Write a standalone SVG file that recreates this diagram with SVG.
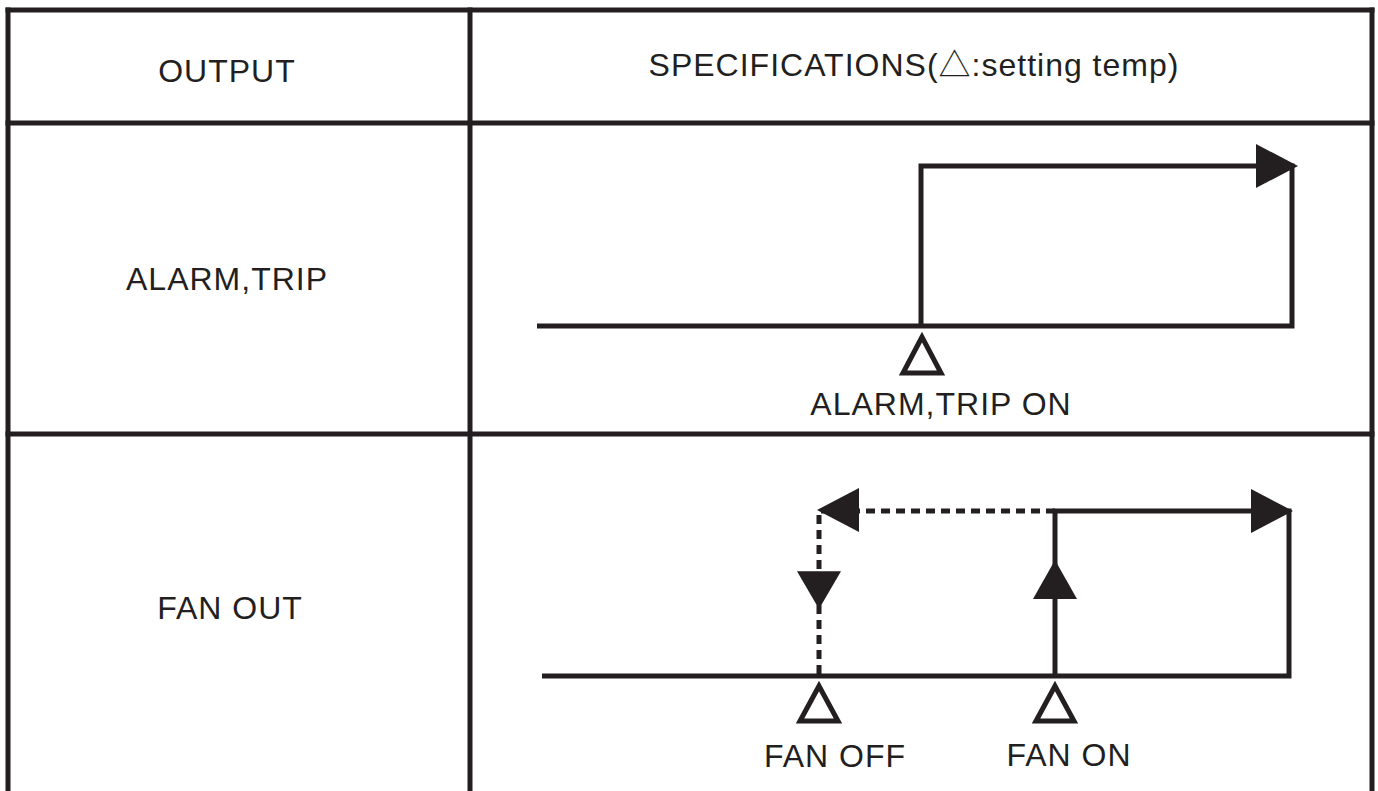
<svg xmlns="http://www.w3.org/2000/svg" xmlns:xlink="http://www.w3.org/1999/xlink" width="1378" height="791" viewBox="0 0 1378 791">
<style>
.grid{stroke:#231f20;stroke-width:5;fill:none;stroke-linecap:square}
.ln{stroke:#231f20;stroke-width:5;fill:none;stroke-linejoin:miter;stroke-linecap:butt}
.dash{stroke:#231f20;stroke-width:5;fill:none;stroke-dasharray:9 6}
.tri{stroke:#231f20;stroke-width:5;fill:none;stroke-linejoin:miter}
.t{font-family:"Liberation Sans",Arial,"Noto Sans CJK SC",sans-serif;font-size:32px;fill:#231f20;letter-spacing:1px;text-anchor:middle}
</style>
<defs>
<polygon id="ah" points="0,0 -42,-22 -42,22" fill="#231f20"/>
</defs>
<rect width="1378" height="791" fill="#ffffff"/>
<g id="table">
<line class="grid" x1="8" y1="10" x2="1372" y2="10"/>
<line class="grid" x1="8" y1="10" x2="8" y2="795"/>
<line class="grid" x1="1372" y1="10" x2="1372" y2="795"/>
<line class="grid" x1="470" y1="10" x2="470" y2="795"/>
<line class="grid" x1="8" y1="123" x2="1372" y2="123"/>
<line class="grid" x1="8" y1="434" x2="1372" y2="434"/>
</g>
<g id="header">
<text class="t" x="227" y="82">OUTPUT</text>
<text class="t" x="914" y="76">SPECIFICATIONS(△:setting temp)</text>
</g>
<g id="row-alarm">
<text class="t" x="227" y="290">ALARM,TRIP</text>
<polygon class="tri" points="922,337 903,373 941,373"/>
<text class="t" x="941" y="415">ALARM,TRIP ON</text>
</g>
<g id="row-fan">
<text class="t" x="230" y="619">FAN OUT</text>
<polygon class="tri" points="819,686 800,721 838,721"/>
<polygon class="tri" points="1055,686 1036,721 1074,721"/>
<text class="t" x="835" y="767">FAN OFF</text>
<text class="t" x="1069" y="766">FAN ON</text>
</g>
<g id="connectors">
<path class="ln" d="M537,326 H1292 V166 H921 V326"/>
<use xlink:href="#ah" transform="translate(1298,166)"/>
<path class="ln" d="M542,676 H1289 V511 H1055 V676"/>
<path class="dash" d="M1055,511 H819 V676"/>
<use xlink:href="#ah" transform="translate(1293,511)"/>
<use xlink:href="#ah" transform="translate(817,510) rotate(180)"/>
<use xlink:href="#ah" transform="translate(819,609) rotate(90) scale(0.9,1)"/>
<use xlink:href="#ah" transform="translate(1055,560) rotate(-90) scale(0.93,1)"/>
</g>
</svg>
